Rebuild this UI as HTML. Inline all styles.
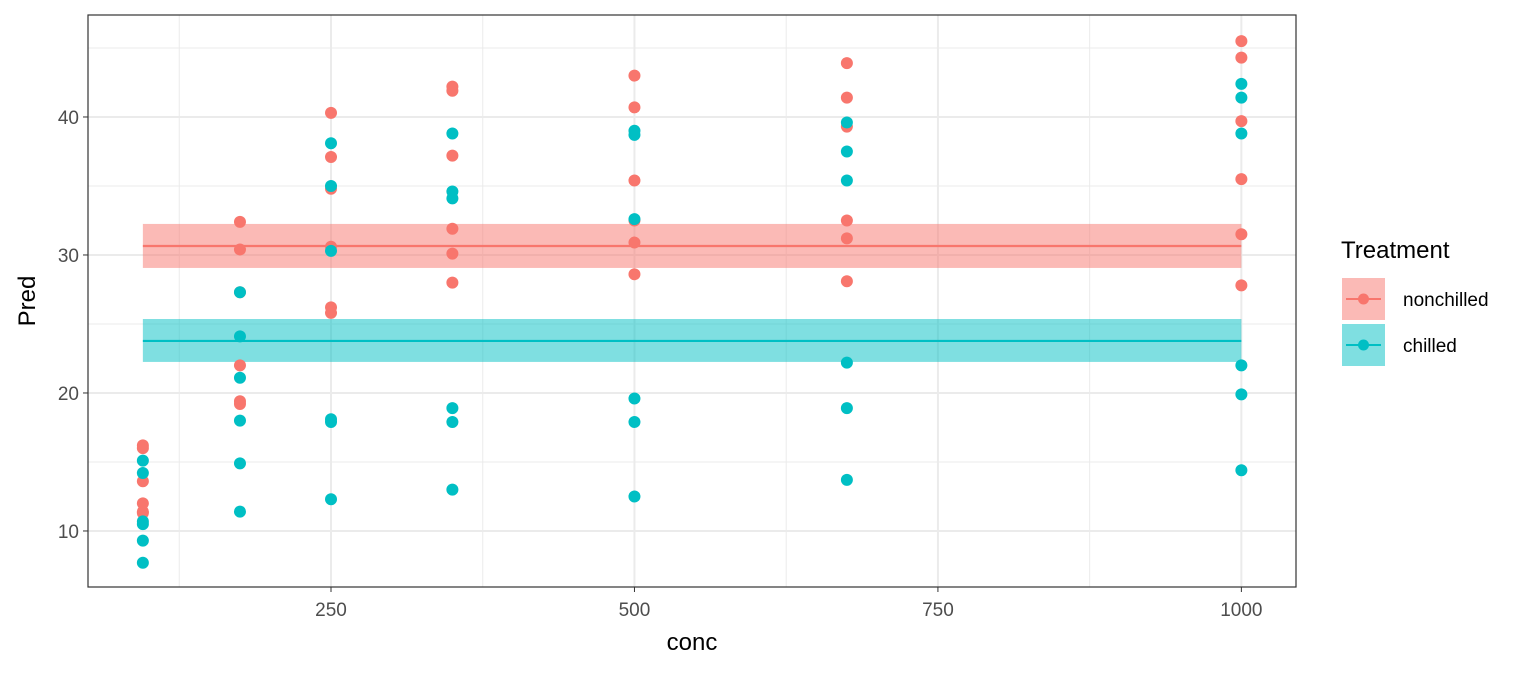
<!DOCTYPE html>
<html><head><meta charset="utf-8"><style>
body{margin:0;background:#fff;font-family:"Liberation Sans",sans-serif}
svg text{font-family:"Liberation Sans",sans-serif}
</style></head><body>
<svg id="c" width="1536" height="672"></svg>
<script>
const concs=[95,175,250,350,500,675,1000];
const nonchilled=[[16.2,16.0,13.6,12.0,11.4,11.3],[32.4,30.4,27.3,22.0,19.4,19.2],[40.3,37.1,34.8,30.6,26.2,25.8],[42.2,41.9,37.2,31.9,30.1,28.0],[43.0,40.7,35.4,32.5,30.9,28.6],[43.9,41.4,39.3,32.5,31.2,28.1],[45.5,44.3,39.7,35.5,31.5,27.8]];
const chilled=[[15.1,14.2,10.7,10.5,9.3,7.7],[27.3,24.1,21.1,18.0,14.9,11.4],[38.1,35.0,30.3,18.1,17.9,12.3],[38.8,34.6,34.1,18.9,17.9,13.0],[39.0,38.7,32.6,19.6,17.9,12.5],[39.6,37.5,35.4,22.2,18.9,13.7],[42.4,41.4,38.8,22.0,19.9,14.4]];
const fitMean=[30.65,23.77];
const fitLo=[29.06,22.25];
const fitHi=[32.25,25.36];
const yTicks=[10,20,30,40];
const xTicks=[250,500,750,1000];
const L=88,R=1296,T=15,B=587;
const x=v=>L+(v-49.8)*(R-L)/(1045-49.8);
const y=v=>B-(v-5.94)*(B-T)/(47.39-5.94);
const s=document.getElementById('c');const NS='http://www.w3.org/2000/svg';
function el(t,a,p){const e=document.createElementNS(NS,t);for(const k in a)e.setAttribute(k,a[k]);(p||s).appendChild(e);return e;}
const cols=['#F8766D','#00BFC4'];
let g;
[15,25,35,45].forEach(v=>{g=el('line',{x1:L,x2:R,y1:y(v),y2:y(v),stroke:'#ebebeb','stroke-width':1});});
[125,375,625,875].forEach(v=>{g=el('line',{x1:x(v),x2:x(v),y1:T,y2:B,stroke:'#ebebeb','stroke-width':1});});
yTicks.forEach(v=>{g=el('line',{x1:L,x2:R,y1:y(v),y2:y(v),stroke:'#ebebeb','stroke-width':2});
 g=el('line',{x1:L-5,x2:L,y1:y(v),y2:y(v),stroke:'#333','stroke-width':1});
 g=el('text',{x:L-9,y:y(v)+7,'text-anchor':'end','font-size':19,fill:'#4d4d4d'});g.textContent=v;});
xTicks.forEach(v=>{g=el('line',{x1:x(v),x2:x(v),y1:T,y2:B,stroke:'#ebebeb','stroke-width':2});
 g=el('line',{x1:x(v),x2:x(v),y1:B,y2:B+5,stroke:'#333','stroke-width':1});
 g=el('text',{x:x(v),y:B+29,'text-anchor':'middle','font-size':19,fill:'#4d4d4d'});g.textContent=v;});
[0,1].forEach(i=>{g=el('rect',{x:x(95),y:y(fitHi[i]),width:x(1000)-x(95),height:y(fitLo[i])-y(fitHi[i]),fill:cols[i],opacity:0.5});
 g=el('line',{x1:x(95),x2:x(1000),y1:y(fitMean[i]),y2:y(fitMean[i]),stroke:cols[i],'stroke-width':2.2});});
[nonchilled,chilled].forEach((ser,i)=>ser.forEach((vals,j)=>vals.forEach(v=>{g=el('circle',{cx:x(concs[j]),cy:y(v),r:6,fill:cols[i]});})));
g=el('rect',{x:L,y:T,width:R-L,height:B-T,fill:'none',stroke:'#333','stroke-width':1.2});
g=el('text',{x:(L+R)/2,y:650,'text-anchor':'middle','font-size':24,fill:'#000'});g.textContent='conc';
g=el('text',{x:0,y:0,'text-anchor':'middle','font-size':24,fill:'#000',transform:'translate(35,301) rotate(-90)'});g.textContent='Pred';
g=el('text',{x:1341,y:258,'font-size':24,fill:'#000'});g.textContent='Treatment';
['nonchilled','chilled'].forEach((n,i)=>{const ky=278+i*46;
 g=el('rect',{x:1342,y:ky,width:43,height:42,fill:cols[i],opacity:0.5});
 g=el('line',{x1:1346,x2:1381,y1:ky+21,y2:ky+21,stroke:cols[i],'stroke-width':2});
 g=el('circle',{cx:1363.5,cy:ky+21,r:5.5,fill:cols[i]});
 g=el('text',{x:1403,y:ky+28,'font-size':19,fill:'#000'});g.textContent=n;});
</script></body></html>
